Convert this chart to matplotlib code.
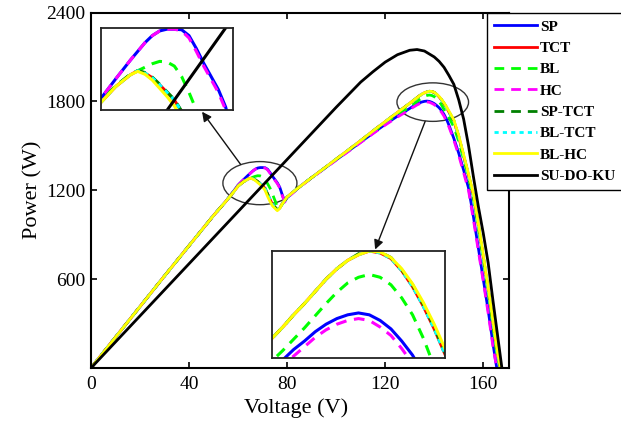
import numpy as np
import matplotlib.pyplot as plt
from matplotlib.patches import Ellipse

plt.rcParams['font.family'] = ['Liberation Serif', 'DejaVu Serif']

nan = np.nan

# voltage grid shared by the seven conventional configurations
v = [0, 10, 20, 30, 40, 50, 55, 58, 60, 62, 64, 65, 66, 67, 68, 69, 70, 71, 72, 73,
     74, 76, 77, 78, 79, 80, 85, 90, 95, 100, 105, 110, 115, 120, 125,
     128, 129, 130, 131, 132, 133, 134, 135, 136, 137, 138, 139, 140, 141, 142, 143, 144, 145, 146,
     148, 150, 152, 154, 156, 158, 160, 162, 164, 165.5, 167]

p_sp = [0, 208, 415, 622, 826, 1030, 1125, 1190, 1235, 1268, 1300, 1315, 1330, 1342, 1350, 1353, 1353, 1352,
        1342, 1320, 1295, 1250, 1220, 1170, 1125, 1150, 1222, 1285, 1345, 1405, 1465, 1525, 1585, 1645, 1700,
        1730, 1742, 1752, 1763, 1772, 1782, 1790, 1796, 1800, 1802, 1800, 1794, 1785, 1772, 1757, 1737, 1712,
        1680, 1640,
        1550, 1450, 1335, 1215, 1020, 810, 600, 390, 160, 0, nan]
p_tct = [0, 208, 415, 622, 826, 1030, 1125, 1185, 1228, 1255, 1275, 1282, 1278, 1270, 1258, 1245, 1232, 1212,
         1175, 1140, 1105, 1068, 1080, 1110, 1132, 1155, 1222, 1285, 1347, 1410, 1472, 1535, 1600, 1663, 1725,
         1762, 1775, 1787, 1800, 1812, 1825, 1838, 1849, 1858, 1864, 1868, 1866, 1860, 1847, 1830, 1809, 1785,
         1758, 1728,
         1668, 1560, 1430, 1300, 1160, 960, 750, 530, 300, 120, 0]
p_bl = [0, 208, 415, 622, 826, 1030, 1125, 1188, 1230, 1256, 1276, 1282, 1288, 1294, 1298, 1297, 1290, 1272,
        1245, 1215, 1175, 1090, 1080, 1105, 1130, 1155, 1222, 1285, 1346, 1408, 1468, 1530, 1592, 1652, 1712,
        1740, 1751, 1762, 1774, 1786, 1799, 1812, 1824, 1834, 1840, 1843, 1840, 1832, 1818, 1800, 1775, 1745,
        1717, 1690,
        1628, 1530, 1410, 1285, 1145, 945, 735, 515, 280, 95, 0]
p_hc = [0, 208, 415, 622, 826, 1030, 1125, 1190, 1235, 1268, 1300, 1315, 1330, 1342, 1350, 1353, 1353, 1350,
        1338, 1315, 1290, 1245, 1215, 1165, 1120, 1148, 1220, 1283, 1343, 1403, 1462, 1522, 1582, 1640, 1694,
        1724, 1735, 1746, 1756, 1766, 1776, 1784, 1790, 1794, 1796, 1794, 1787, 1778, 1764, 1748, 1726, 1700,
        1666, 1628,
        1538, 1435, 1318, 1198, 1000, 790, 585, 370, 140, 0, nan]
p_sp_tct = [0, 208, 415, 622, 826, 1030, 1125, 1186, 1229, 1256, 1276, 1282, 1279, 1271, 1259, 1246, 1233, 1213,
            1176, 1141, 1106, 1068, 1081, 1110, 1132, 1155, 1222, 1285, 1347, 1410, 1472, 1535, 1600, 1663, 1725,
            1762, 1775, 1787, 1800, 1812, 1825, 1838, 1849, 1858, 1865, 1868, 1867, 1861, 1848, 1832, 1811, 1787,
            1760, 1730,
            1670, 1563, 1433, 1303, 1163, 963, 753, 533, 303, 122, 0]
p_bl_tct = [0, 208, 415, 622, 826, 1030, 1125, 1185, 1228, 1255, 1275, 1282, 1278, 1270, 1258, 1245, 1232, 1212,
            1175, 1140, 1105, 1068, 1080, 1110, 1132, 1155, 1222, 1285, 1347, 1410, 1472, 1535, 1600, 1663, 1725,
            1762, 1775, 1787, 1800, 1812, 1825, 1838, 1849, 1858, 1864, 1868, 1866, 1860, 1847, 1830, 1809, 1785,
            1758, 1728,
            1668, 1560, 1430, 1300, 1160, 960, 750, 530, 300, 120, 0]
p_bl_hc = [0, 208, 415, 622, 826, 1030, 1125, 1185, 1228, 1255, 1275, 1281, 1276, 1266, 1252, 1238, 1222, 1200,
           1160, 1125, 1095, 1062, 1078, 1108, 1132, 1155, 1222, 1285, 1347, 1410, 1472, 1535, 1600, 1663, 1725,
           1762, 1775, 1787, 1800, 1812, 1825, 1838, 1849, 1858, 1864, 1868, 1867, 1861, 1849, 1833, 1813, 1790,
           1764, 1735,
           1675, 1570, 1440, 1310, 1175, 975, 765, 545, 315, 135, 0]

# proposed SU-DO-KU arrangement
v_sdk = [0, 20, 40, 60, 80, 100, 110, 115, 120, 125, 130, 133, 136, 140, 142, 144, 146, 148,
         150, 152, 154, 156, 158, 160, 162, 164, 166, 167.6]
p_sdk = [0, 352, 704, 1056, 1408, 1760, 1930, 2000, 2065, 2115, 2145, 2150, 2140, 2100, 2070,
         2030, 1975, 1915, 1810, 1680, 1500, 1290, 1090, 910, 710, 450, 200, 0]

labels = ['SP', 'TCT', 'BL', 'HC', 'SP-TCT', 'BL-TCT', 'BL-HC', 'SU-DO-KU']
colors = ['#0000ff', '#ff0000', '#00ff00', '#ff00ff', '#008000', '#00ffff', '#ffff00', '#000000']
dash = (0, (3.5, 2.5))
dot = (0, (1.5, 1.5))
styles = ['-', '-', dash, dash, dash, dot, '-', '-']
curves = [(v, p_sp), (v, p_tct), (v, p_bl), (v, p_hc), (v, p_sp_tct), (v, p_bl_tct),
          (v, p_bl_hc), (v_sdk, p_sdk)]


def draw(a, lw=2.0):
    for (x, y), lab, c, ls in zip(curves, labels, colors, styles):
        a.plot(x, y, color=c, ls=ls, lw=lw, label=lab)


fig = plt.figure(figsize=(6.21, 4.3), dpi=100)
ax = fig.add_axes([91 / 621, 1 - 368 / 430, 418 / 621, 355.5 / 430])
draw(ax)
ax.set_xlim(0, 170.5)
ax.set_ylim(0, 2400)
ax.set_xticks([0, 40, 80, 120, 160])
ax.set_yticks([600, 1200, 1800, 2400])
ax.tick_params(direction='in', top=True, right=True, labelsize=14, length=4, width=1.2, pad=4)
ax.tick_params(axis='x', pad=6)
for s in ax.spines.values():
    s.set_linewidth(1.5)
ax.set_xlabel('Voltage (V)', fontsize=16)
ax.set_ylabel('Power (W)', fontsize=16)
ax.xaxis.set_label_coords(0.49, -0.085)
ax.yaxis.set_label_coords(-0.115, 0.5)

# ellipses marking the zoomed regions
ax.add_patch(Ellipse((68.9, 1248), 30.2, 291, fill=False, ec='#333333', lw=1))
ax.add_patch(Ellipse((139.4, 1795), 29.2, 260, fill=False, ec='#333333', lw=1))
arrow = dict(arrowstyle='-|>', color='#111111', lw=1, mutation_scale=14, shrinkA=0, shrinkB=0)
ax.annotate('', xy=(45.3, 1730), xytext=(61, 1375), arrowprops=arrow)
ax.annotate('', xy=(115.9, 800), xytext=(136.3, 1665), arrowprops=arrow)

ax.legend(loc='upper left', bbox_to_anchor=(487 / 621, 1 - 13 / 430),
          bbox_transform=fig.transFigure, borderaxespad=0, fancybox=False,
          edgecolor='k', framealpha=1, prop=dict(weight='bold', size=11),
          handlelength=2.8, handletextpad=0.2, labelspacing=0.5, borderpad=0.45)

# zoomed insets
ins1 = fig.add_axes([101 / 621, 1 - 110 / 430, 132 / 621, 82 / 430])
draw(ins1, lw=2.2)
ins1.set_xlim(60, 78)
ins1.set_ylim(1215, 1355)
ins2 = fig.add_axes([272 / 621, 1 - 358 / 430, 173 / 621, 107 / 430])
draw(ins2, lw=2.2)
ins2.set_xlim(129, 145)
ins2.set_ylim(1754, 1868)
for a in (ins1, ins2):
    a.set_xticks([])
    a.set_yticks([])
    for s in a.spines.values():
        s.set_linewidth(1.3)
        s.set_color('#222222')

fig.savefig('out.png', dpi=100)
